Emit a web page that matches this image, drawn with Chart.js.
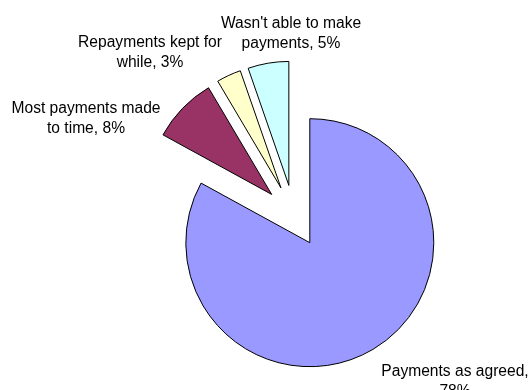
<!DOCTYPE html>
<html>
<head>
<meta charset="utf-8">
<title>Repayments pie</title>
<script src="https://cdn.jsdelivr.net/npm/chart.js@4.4.1/dist/chart.umd.min.js"></script>
<style>
  html, body { margin:0; padding:0; background:#fff; }
  #wrap { position:relative; width:529px; height:390px; overflow:hidden; }
</style>
</head>
<body>
<div id="wrap"><canvas id="pie" width="529" height="390"></canvas></div>
<script>
// data (labels show the raw percentages, they sum to 94)
const categories = [
  "Payments as agreed",
  "Most payments made to time",
  "Repayments kept for while",
  "Wasn't able to make payments"
];
const shares = [78, 8, 3, 5];
const sliceColors = ["#9999FF", "#993366", "#FFFFCC", "#CCFFFF"];

// label block positions, relative to pie centre (baseline of first line)
const labelOffsets = [[161, 160], [-208, -103], [-144, -169], [-3, -188]];

const EXPLODE = 31;     // px every slice is pulled out along its bisector
const LABEL_FONT = "15.6px 'Liberation Sans', Arial, sans-serif";
const LINE_H = 20;
const WRAP_W = 156;

function wrapText(ctx, text, maxW){
  const words = text.split(" ");
  const lines = [];
  let cur = "";
  words.forEach(w=>{
    const test = cur ? cur + " " + w : w;
    if(cur && ctx.measureText(test).width > maxW){
      lines.push(cur);
      cur = w;
    } else {
      cur = test;
    }
  });
  if(cur) lines.push(cur);
  return lines;
}

// Excel-style exploded pie: shift every arc out from the centre
const explodePlugin = {
  id: "explode",
  beforeDatasetsDraw(chart){
    const a = chart.chartArea;
    const cx = (a.left + a.right) / 2, cy = (a.top + a.bottom) / 2;
    chart.getDatasetMeta(0).data.forEach(arc=>{
      const mid = (arc.startAngle + arc.endAngle) / 2;
      arc.x = cx + Math.cos(mid) * EXPLODE;
      arc.y = cy + Math.sin(mid) * EXPLODE;
    });
  }
};

const labelPlugin = {
  id: "sliceLabels",
  afterDraw(chart){
    const ctx = chart.ctx;
    const a = chart.chartArea;
    const cx = (a.left + a.right) / 2, cy = (a.top + a.bottom) / 2;
    ctx.save();
    ctx.font = LABEL_FONT;
    ctx.fillStyle = "#000";
    ctx.textAlign = "center";
    ctx.textBaseline = "alphabetic";
    categories.forEach((c, i)=>{
      const lines = wrapText(ctx, `${c}, ${shares[i]}%`, WRAP_W);
      const [dx, dy] = labelOffsets[i];
      lines.forEach((ln, k)=>{
        ctx.fillText(ln, cx + dx, cy + dy + k * LINE_H);
      });
    });
    ctx.restore();
  }
};

new Chart(document.getElementById("pie"), {
  type: "pie",
  data: {
    labels: categories,
    datasets: [{
      data: shares,
      backgroundColor: sliceColors,
      borderColor: "#000",
      borderWidth: 1,
      borderJoinStyle: "miter",
      radius: 124
    }]
  },
  options: {
    responsive: false,
    animation: false,
    layout: { padding: { left: 59, top: 42, right: 0, bottom: 0 } },
    plugins: {
      legend: { display: false },
      tooltip: { enabled: false }
    }
  },
  plugins: [explodePlugin, labelPlugin]
});
</script>
</body>
</html>
